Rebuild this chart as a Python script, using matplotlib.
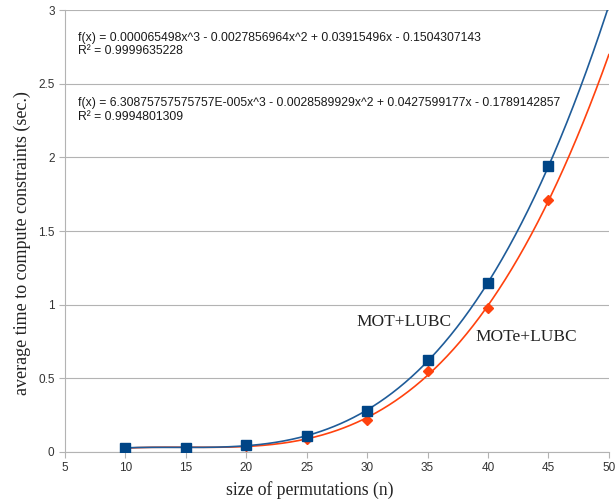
import numpy as np
import matplotlib.pyplot as plt

# Data
n = [10, 15, 20, 25, 30, 35, 40, 45]
mot_lubc = [0.027, 0.028, 0.048, 0.11, 0.28, 0.625, 1.147, 1.94]
mote_lubc = [0.024, 0.027, 0.040, 0.09, 0.22, 0.55, 0.98, 1.71]

# trend line coefficients as printed on the chart
coef_mot = [0.000065498, -0.0027856964, 0.03915496, -0.1504307143]
coef_mote = [6.30875757575757e-005, -0.0028589929, 0.0427599177, -0.1789142857]
eq_mot = "f(x) = 0.000065498x^3 - 0.0027856964x^2 + 0.03915496x - 0.1504307143\nR² = 0.9999635228"
eq_mote = "f(x) = 6.30875757575757E-005x^3 - 0.0028589929x^2 + 0.0427599177x - 0.1789142857\nR² = 0.9994801309"

blue = '#004586'
orange = '#ff420e'
sans = 'Liberation Sans'
serif = 'Liberation Serif'

fig = plt.figure(figsize=(6.15, 5.04), dpi=100)
ax = fig.add_axes([0.1057, 0.1032, 0.8843, 0.8768])

xs = np.linspace(10, 50, 300)
ax.plot(xs, np.polyval(coef_mote, xs), color=orange, lw=1.2, zorder=2)
ax.plot(xs, np.polyval(coef_mot, xs), color='#1f5c99', lw=1.2, zorder=2)
ax.plot(n, mote_lubc, 'D', color=orange, ms=5.5, zorder=3)
ax.plot(n, mot_lubc, 's', color=blue, ms=7.5, zorder=4)

ax.set_xlim(5, 50)
ax.set_ylim(0, 3)
ax.set_xticks(range(5, 51, 5))
ax.set_yticks([0, 0.5, 1, 1.5, 2, 2.5, 3])
ax.set_yticklabels(['0', '0.5', '1', '1.5', '2', '2.5', '3'])
ax.grid(axis='y', color='#b3b3b3', lw=0.8)
ax.set_axisbelow(True)
for s in ['top', 'right']:
    ax.spines[s].set_visible(False)
for s in ['left', 'bottom']:
    ax.spines[s].set_color('#b3b3b3')
ax.tick_params(colors='#b3b3b3', labelcolor='#333333', length=4, width=0.8)
for lab in ax.get_xticklabels() + ax.get_yticklabels():
    lab.set_fontfamily(sans)
    lab.set_fontsize(8.5)

ax.set_xlabel('size of permutations (n)', family=serif, fontsize=12.7, color='#222222', labelpad=5)
ax.set_ylabel('average time to compute constraints (sec.)', family=serif, fontsize=13, color='#222222', labelpad=5)
ax.xaxis.label.set_x(0.45)
ax.yaxis.label.set_y(0.473)

ax.text(0.0235, 0.922, eq_mot, transform=ax.transAxes, family=sans, fontsize=8.7,
        va='center', ha='left', linespacing=1.15, color='#1a1a1a')
ax.text(0.0235, 0.774, eq_mote, transform=ax.transAxes, family=sans, fontsize=8.7,
        va='center', ha='left', linespacing=1.15, color='#1a1a1a')

ax.text(29.15, 0.883, 'MOT+LUBC', family=serif, fontsize=12.5, color='#222222', va='center')
ax.text(39.0, 0.78, 'MOTe+LUBC', family=serif, fontsize=12.5, color='#222222', va='center')

fig.savefig('out.png', dpi=100)
